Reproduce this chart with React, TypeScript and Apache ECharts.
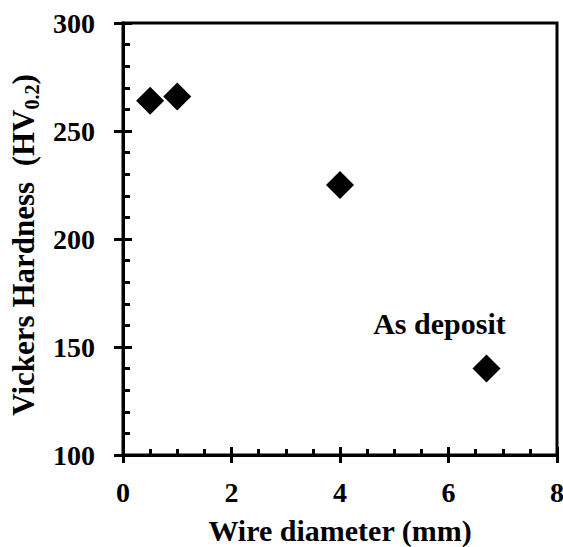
import React, { useEffect, useRef } from "react";
import * as echarts from "echarts";

const diameters = [0.5, 1, 4, 6.7];
const hardness = [264, 266, 225, 140];
const annotations = ["", "", "", "As deposit"];
const xTitle = "Wire diameter (mm)";
const yTitleMain = "Vickers Hardness  (HV";
const yTitleSub = "0.2";
const yTitleEnd = ")";

const FONT = "'Liberation Serif', 'Times New Roman', serif";

export default function App() {
  const ref = useRef<HTMLDivElement>(null);
  useEffect(() => {
    const chart = echarts.init(ref.current!, null, { renderer: "svg" });
    const data = diameters.map((d, i) => {
      const item: any = { value: [d, hardness[i]] };
      if (annotations[i]) {
        item.label = {
          show: true,
          formatter: annotations[i],
          position: "top",
          offset: [-47, -11],
          fontFamily: FONT,
          fontWeight: "bold",
          fontSize: 30,
          color: "#000",
        };
      }
      return item;
    });
    const lineStyle = { color: "#000", width: 3 };
    const baseX = {
      type: "value" as const,
      min: 0,
      max: 8,
      interval: 2,
      position: "bottom" as const,
      splitLine: { show: false },
      axisLine: { show: true, onZero: false, lineStyle },
    };
    const baseY = {
      type: "value" as const,
      min: 100,
      max: 300,
      interval: 50,
      position: "left" as const,
      splitLine: { show: false },
      axisLine: { show: true, onZero: false, lineStyle },
    };
    chart.setOption({
      animation: false,
      backgroundColor: "#fff",
      grid: {
        left: 123,
        top: 23,
        right: 6,
        bottom: 92,
        outerBoundsMode: "none",
        containLabel: false,
        show: true,
        borderColor: "#000",
        borderWidth: 3,
        backgroundColor: "transparent",
      },
      xAxis: [
        {
          ...baseX,
          name: xTitle,
          nameLocation: "middle",
          nameGap: 64,
          nameMoveOverlap: false,
          nameTextStyle: { fontFamily: FONT, fontWeight: "bold", fontSize: 30, lineHeight: 22, color: "#000" },
          axisTick: { show: true, inside: false, length: 8, lineStyle },
          axisLabel: { show: true, margin: 27, lineHeight: 20, fontFamily: FONT, fontWeight: "bold", fontSize: 28, color: "#000" },
        },
        {
          ...baseX,
          axisTick: { show: true, inside: true, length: 8, lineStyle },
          minorTick: { show: true, splitNumber: 4, length: 6, lineStyle: { color: "#000", width: 3 } },
          axisLabel: { show: false },
        },
      ],
      yAxis: [
        {
          ...baseY,
          name: `{a|${yTitleMain}}{s|${yTitleSub}}{a|${yTitleEnd}}`,
          nameLocation: "middle",
          nameRotate: 90,
          nameGap: 76,
          nameTextStyle: {
            color: "#000",
            padding: [0, 12, 0, 0],
            rich: {
              a: { fontFamily: FONT, fontWeight: "bold", fontSize: 31, color: "#000", verticalAlign: "bottom" },
              s: { fontFamily: FONT, fontWeight: "bold", fontSize: 20, color: "#000", verticalAlign: "bottom", padding: [0, 0, -3, 0] },
            },
          },
          axisTick: { show: true, inside: false, length: 9, lineStyle },
          axisLabel: { show: true, margin: 28, fontFamily: FONT, fontWeight: "bold", fontSize: 28, color: "#000" },
        },
        {
          ...baseY,
          axisTick: { show: true, inside: true, length: 9, lineStyle },
          minorTick: { show: true, splitNumber: 5, length: 7, lineStyle: { color: "#000", width: 3 } },
          axisLabel: { show: false },
        },
      ],
      series: [
        {
          type: "scatter",
          xAxisIndex: 0,
          yAxisIndex: 0,
          symbol: "diamond",
          symbolSize: 28,
          itemStyle: { color: "#000", opacity: 1 },
          data,
          z: 5,
        },
      ],
    });
    return () => chart.dispose();
  }, []);
  return (
    <div
      ref={ref}
      style={{ position: "fixed", left: 0, top: 0, width: 563, height: 547, background: "#fff" }}
    />
  );
}
